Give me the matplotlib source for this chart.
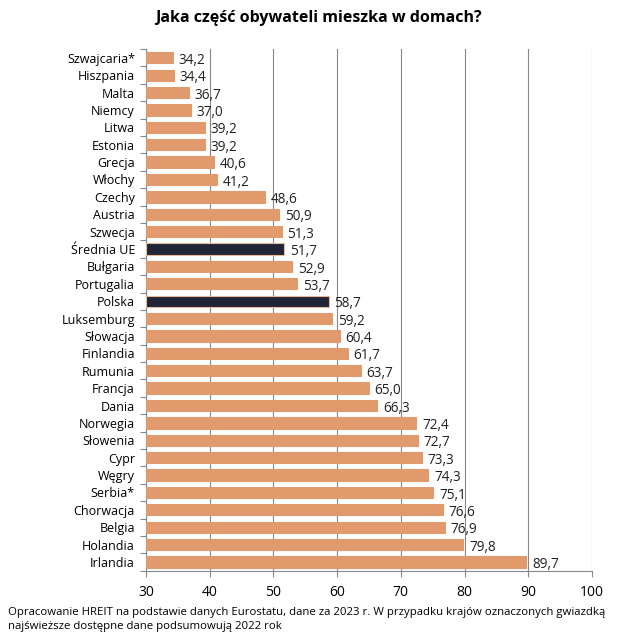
import numpy as np
import matplotlib.pyplot as plt

plt.rcParams['font.family'] = ['Open Sans', 'DejaVu Sans']

countries = ['Szwajcaria*', 'Hiszpania', 'Malta', 'Niemcy', 'Litwa', 'Estonia', 'Grecja',
             'Włochy', 'Czechy', 'Austria', 'Szwecja', 'Średnia UE', 'Bułgaria', 'Portugalia',
             'Polska', 'Luksemburg', 'Słowacja', 'Finlandia', 'Rumunia', 'Francja', 'Dania',
             'Norwegia', 'Słowenia', 'Cypr', 'Węgry', 'Serbia*', 'Chorwacja', 'Belgia',
             'Holandia', 'Irlandia']
values = [34.2, 34.4, 36.7, 37.0, 39.2, 39.2, 40.6, 41.2, 48.6, 50.9, 51.3, 51.7, 52.9, 53.7,
          58.7, 59.2, 60.4, 61.7, 63.7, 65.0, 66.3, 72.4, 72.7, 73.3, 74.3, 75.1, 76.6, 76.9,
          79.8, 89.7]
highlight = ['Średnia UE', 'Polska']

fig = plt.figure(figsize=(6.37, 6.4), dpi=100)
ax = fig.add_axes([0.2292, 0.1083, 0.7002, 0.815])

y = np.arange(len(countries))
colors = ['#1F2436' if c in highlight else '#E09A6C' for c in countries]
edges = ['#E8B894' if c in highlight else '#E09A6C' for c in countries]
ax.barh(y, np.array(values) - 30, left=30, height=0.65, color=colors, edgecolor=edges,
        linewidth=0.8, zorder=3)

# value labels right of each bar
for yi, v in zip(y, values):
    ax.text(v + 0.9, yi + 0.15, f'{v:.1f}'.replace('.', ','), va='center', ha='left',
            fontsize=9.8, color='#222222', zorder=4)

ax.set_xlim(30, 100)
ax.set_ylim(len(countries) - 0.5, -0.5)
ax.set_xticks(range(30, 101, 10))
ax.tick_params(axis='x', labelsize=10, length=4, color='#888888', pad=6)

ax.set_yticks(np.arange(-0.5, len(countries), 1))
ax.set_yticklabels([])
ax.tick_params(axis='y', which='major', length=4, color='#888888')
ax.set_yticks(y, minor=True)
ax.set_yticklabels(countries, minor=True, fontsize=9)
ax.tick_params(axis='y', which='minor', length=0, pad=8)

ax.grid(axis='x', color='#888888', linewidth=0.8, zorder=0)
for s in ['top', 'right']:
    ax.spines[s].set_visible(False)
for s in ['left', 'bottom']:
    ax.spines[s].set_color('#888888')

fig.text(0.5, 0.972, 'Jaka część obywateli mieszka w domach?', ha='center', va='center',
         fontsize=11.5, fontweight='bold')
fig.text(0.012, 0.032, 'Opracowanie HREIT na podstawie danych Eurostatu, dane za 2023 r. W przypadku krajów oznaczonych gwiazdką\n'
         'najświeższe dostępne dane podsumowują 2022 rok', ha='left', va='center', fontsize=8.2,
         linespacing=1.4)

fig.savefig('out.png', dpi=100)
